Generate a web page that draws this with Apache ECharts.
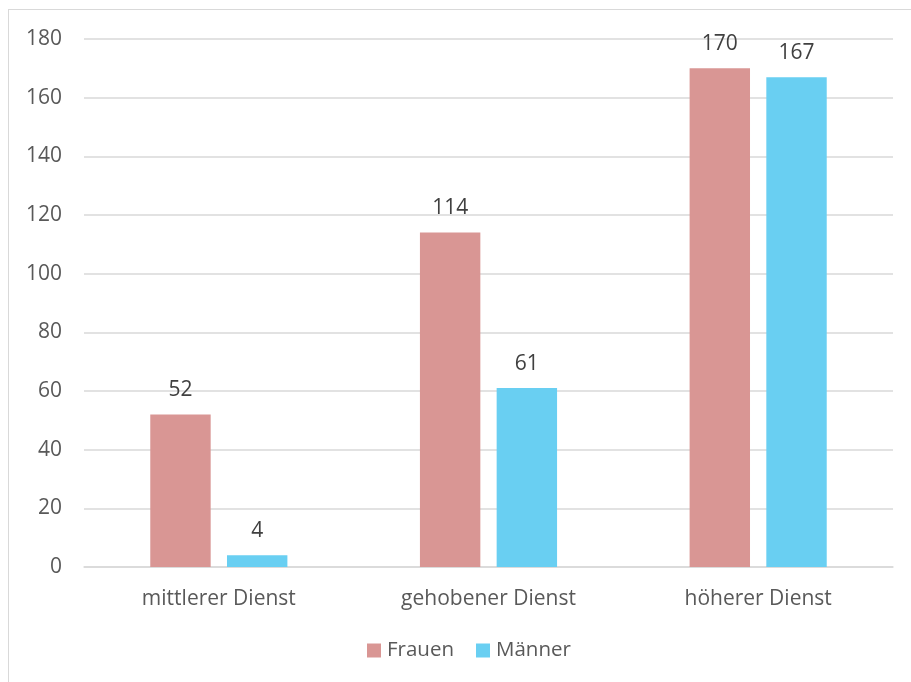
<!DOCTYPE html>
<html>
<head>
<meta charset="utf-8">
<script src="https://cdn.jsdelivr.net/npm/echarts@6/dist/echarts.min.js"></script>
<style>
html,body{margin:0;padding:0;background:#fff;}
#frame{position:absolute;left:8px;top:9px;width:920px;height:690px;border:1px solid #D9D9D9;box-sizing:border-box;}
#c{position:absolute;left:0;top:0;width:911px;height:682px;}
</style>
</head>
<body>
<div id="frame"></div>
<div id="c"></div>
<script>
const categories = ['mittlerer Dienst', 'gehobener Dienst', 'höherer Dienst'];
const frauen = [52, 114, 170];
const maenner = [4, 61, 167];
const yTicks = { min: 0, max: 180, interval: 20 };

const chart = echarts.init(document.getElementById('c'), null, { renderer: 'canvas' });
const font = '"Open Sans", "Noto Sans", sans-serif';
const txt = '#595959';
const labelCfg = { show: true, position: 'top', distance: 14, color: '#404040', fontSize: 21, fontFamily: font };
chart.setOption({
  animation: false,
  textStyle: { fontFamily: font },
  legend: {
    bottom: 16, left: 362, itemWidth: 14, itemHeight: 14, itemGap: 22,
    icon: 'rect',
    textStyle: { color: txt, fontSize: 20.5, fontFamily: font, padding: [0, 0, 0, 1] },
    data: ['Frauen', 'Männer']
  },
  grid: { left: 84, right: 18, top: 39, bottom: 115, containLabel: false },
  xAxis: {
    type: 'category', data: categories,
    axisLine: { lineStyle: { color: '#D9D9D9', width: 1.5 } },
    axisTick: { show: false },
    axisLabel: { color: txt, fontSize: 21, fontFamily: font, margin: 22 }
  },
  yAxis: {
    type: 'value', min: yTicks.min, max: yTicks.max, interval: yTicks.interval,
    axisLine: { show: false }, axisTick: { show: false },
    splitLine: { lineStyle: { color: '#D9D9D9', width: 1.5 } },
    axisLabel: { color: txt, fontSize: 21, fontFamily: font, margin: 22 }
  },
  series: [
    { name: 'Frauen', type: 'bar', data: frauen, barWidth: '22.4%', barGap: '27%',
      itemStyle: { color: '#D99694' }, label: labelCfg },
    { name: 'Männer', type: 'bar', data: maenner, barWidth: '22.4%',
      itemStyle: { color: '#69CFF2' }, label: labelCfg }
  ]
});
</script>
</body>
</html>
